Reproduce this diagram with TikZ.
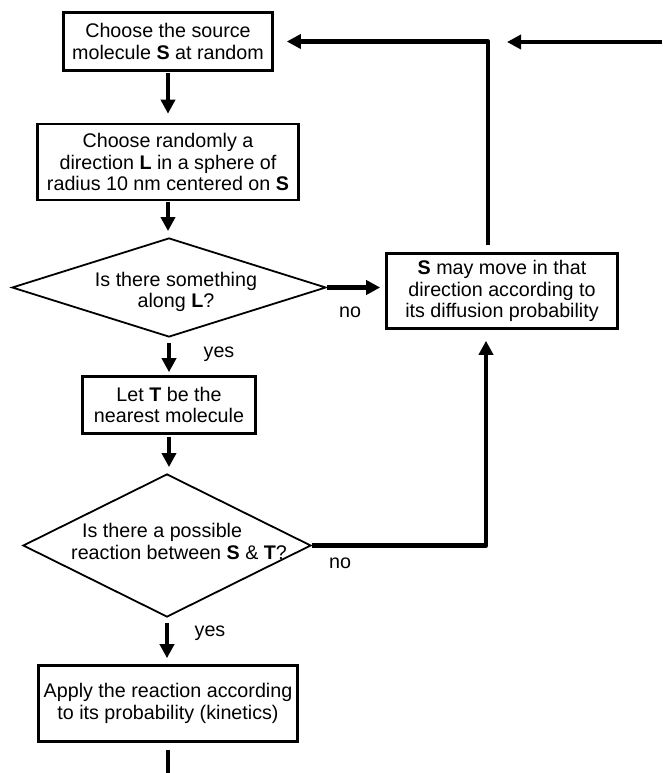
\documentclass[tikz,border=0pt]{standalone}
\usepackage{fontspec}
\setmainfont{Liberation Sans}
\usetikzlibrary{arrows.meta,shapes.geometric,calc}
\begin{document}
\begin{tikzpicture}[x=1pt,y=-1pt,
  box/.style={draw,line width=2.6pt,align=center,inner sep=0pt,font=\fontsize{19.7}{21.7}\selectfont},
  dia/.style={draw,diamond,line width=1.8pt,inner sep=0pt},
  txt/.style={align=center,inner sep=0pt,font=\fontsize{19.7}{21.7}\selectfont},
  tip/.style={-{Triangle[length=14pt,width=14pt]}},
  arr/.style={line width=4pt,tip},
  lp/.style={line width=4.5pt,line join=round}
]
\useasboundingbox (0,0) rectangle (662,773);

\node[box,minimum width=209pt,minimum height=58pt] (b1) at (168,41.5) {Choose the source\\molecule \textbf{S} at random};
\node[box,minimum width=261pt,minimum height=76pt] (b2) at (168,162) {Choose randomly a\\direction \textbf{L} in a sphere of\\radius 10 nm centered on \textbf{S}};
\node[dia,minimum width=314pt,minimum height=99pt] (d1) at (169,287.5) {};
\node[txt] (t1) at (176,292) {Is there something\\along \textbf{L}?};
\node[box,minimum width=231pt,minimum height=75pt] (b3) at (502,291) {\textbf{S} may move in that\\direction according to\\its diffusion probability};
\node[box,minimum width=173pt,minimum height=57pt] (b4) at (169,405) {Let \textbf{T} be the\\nearest molecule};
\node[dia,minimum width=288pt,minimum height=143pt] (d2) at (167,545.5) {};
\node[txt,align=left,anchor=west] (t2) at (71,541.5) {\hspace{11pt}Is there a possible\\reaction between \textbf{S} \& \textbf{T}?};
\node[box,minimum width=259pt,minimum height=76pt] (b5) at (168,703.5) {Apply the reaction according\\to its probability (kinetics)};

\node[txt] (no1) at (350,312) {no};
\node[txt] (yes1) at (219,354) {yes};
\node[txt] (no2) at (340,563) {no};
\node[txt] (yes2) at (210,633) {yes};

\coordinate (rin) at (662,42);
\coordinate (rtip) at (507,42);
\coordinate (bottom) at (0,773);

\draw[arr,shorten <=1pt,shorten >=9pt] (b1.south) -- (b1.south |- b2.north);
\draw[arr,shorten <=1pt,shorten >=6pt] (b2.south) -- (b2.south |- d1.north);
\draw[arr,shorten <=5pt,shorten >=3pt] (d1.south) -- (d1.south |- b4.north);
\draw[arr,shorten <=2pt,shorten >=6pt] (b4.south) -- (b4.south |- d2.north);
\draw[arr,shorten <=5pt,shorten >=6pt] (d2.south) -- (d2.south |- b5.north);
\draw[line width=4pt,shorten <=7pt] (b5.south) -- (b5.south |- bottom);

\draw[lp,tip,shorten >=5pt] (d1.east) -- (d1.east -| b3.west);
\draw[lp,tip,shorten <=7pt,shorten >=13pt] ([xshift=-14pt]b3.north) |- (b1.east);
\draw[lp,tip] (rin) -- (rtip);
\draw[lp,tip,shorten >=11pt] (d2.east) -| ([xshift=-16pt]b3.south);
\end{tikzpicture}
\end{document}
